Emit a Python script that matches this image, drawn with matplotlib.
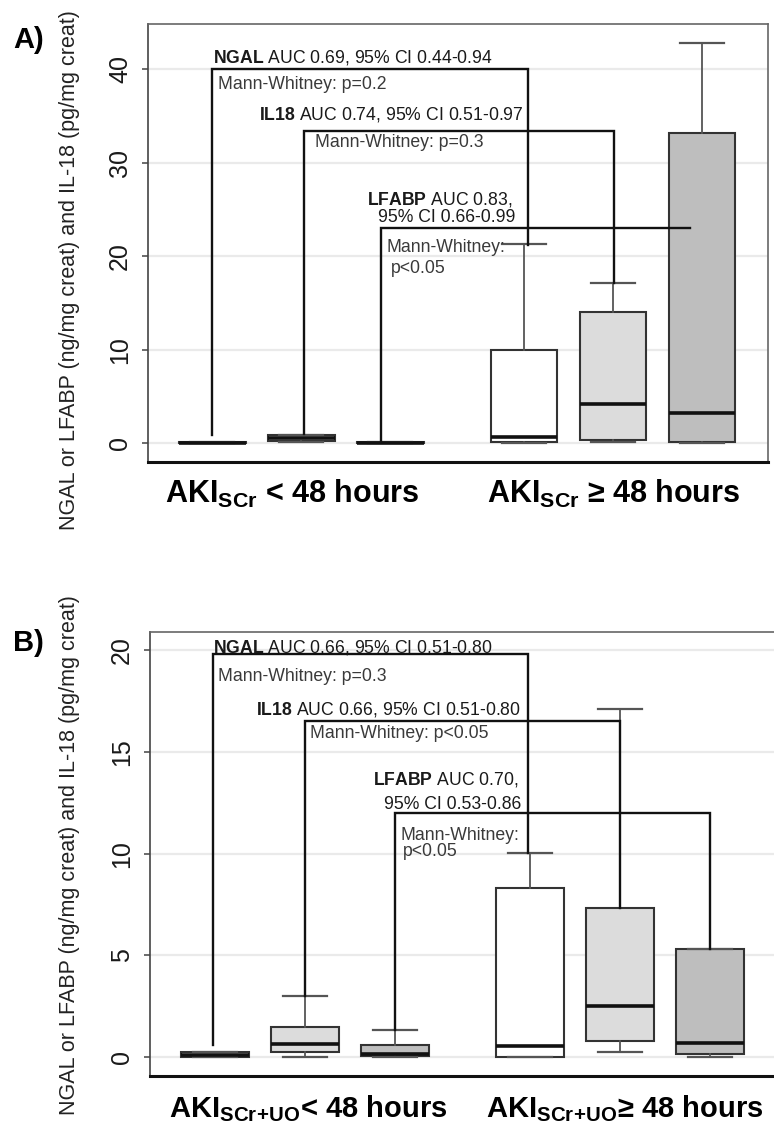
import matplotlib
matplotlib.use("Agg")
import matplotlib.pyplot as plt

plt.rcParams['font.family'] = ['Liberation Sans', 'DejaVu Sans']
plt.rcParams['mathtext.fontset'] = 'custom'
plt.rcParams['mathtext.rm'] = 'Liberation Sans'
plt.rcParams['mathtext.bf'] = 'Liberation Sans:bold'

# box order: NGAL, IL18, LFABP (<48h) then NGAL, IL18, LFABP (>=48h)
positions = [1, 2, 3, 4.5, 5.5, 6.5]
markers = ['NGAL', 'IL18', 'LFABP']

# panel A: AKI by SCr
a_whislo = [0.0, 0.1, 0.0, 0.0, 0.1, 0.0]
a_q1 = [0.0, 0.2, 0.0, 0.1, 0.4, 0.1]
a_med = [0.05, 0.55, 0.05, 0.65, 4.2, 3.2]
a_q3 = [0.15, 0.85, 0.15, 10.0, 14.0, 33.2]
a_whishi = [0.15, 0.85, 0.15, 21.3, 17.1, 42.8]
a_auc = ['AUC 0.69, 95% CI 0.44-0.94', 'AUC 0.74, 95% CI 0.51-0.97', 'AUC 0.83,', '95% CI 0.66-0.99']
a_mw = ['Mann-Whitney: p=0.2', 'Mann-Whitney: p=0.3', 'Mann-Whitney:', 'p<0.05']
# brackets: height, left x, right x, left foot, right foot
a_br_y = [40.0, 33.4, 23.0]
a_br_x0 = [1.0, 2.03, 2.9]
a_br_x1 = [4.55, 5.51, 6.36]
a_br_foot0 = [0.85, 1.0, 0.15]
a_br_foot1 = [21.2, 17.1, 23.0]
a_xlabels = ['AKI$_{\\mathregular{SCr}}$ < 48 hours', 'AKI$_{\\mathregular{SCr}}$ \u2265 48 hours']

# panel B: AKI by SCr + UO
b_whislo = [0.0, 0.0, 0.0, 0.0, 0.25, 0.0]
b_q1 = [0.0, 0.25, 0.03, 0.0, 0.8, 0.15]
b_med = [0.1, 0.64, 0.15, 0.55, 2.48, 0.7]
b_q3 = [0.25, 1.48, 0.6, 8.3, 7.33, 5.3]
b_whishi = [0.25, 3.0, 1.33, 10.05, 17.1, 5.3]
b_auc = ['AUC 0.66, 95% CI 0.51-0.80', 'AUC 0.66, 95% CI 0.51-0.80', 'AUC 0.70,', '95% CI 0.53-0.86']
b_mw = ['Mann-Whitney: p=0.3', 'Mann-Whitney: p<0.05', 'Mann-Whitney:', 'p<0.05']
b_br_y = [19.8, 16.5, 12.0]
b_br_x0 = [0.98, 2.0, 3.0]
b_br_x1 = [4.48, 5.5, 6.5]
b_br_foot0 = [0.6, 3.0, 1.33]
b_br_foot1 = [10.05, 7.33, 5.3]
b_xlabels = ['AKI$_{\\mathregular{SCr\\!+\\!UO}}$< 48 hours',
             'AKI$_{\\mathregular{SCr\\!+\\!UO}}$\u2265 48 hours']

ylabel = 'NGAL or LFABP (ng/mg creat) and IL-18 (pg/mg creat)'
fills = ['white', '#dcdcdc', '#bebebe']

W, H = 774, 1134


def draw_panel(ax, whislo, q1, med, q3, whishi, br_y, br_x0, br_x1, f0, f1,
               auc, mw, text_pos, ylim, yticks, xlim):
    for v in yticks:
        ax.axhline(v, color='#eaeaea', lw=1.6, zorder=0)

    stats = []
    for i in range(len(positions)):
        stats.append({'whislo': whislo[i], 'q1': q1[i], 'med': med[i],
                      'q3': q3[i], 'whishi': whishi[i], 'fliers': []})
    bp = ax.bxp(stats, positions=positions, widths=0.75, patch_artist=True,
                showfliers=False, capwidths=0.49,
                boxprops=dict(edgecolor='#333333', lw=1.5),
                medianprops=dict(color='#111111', lw=2.6),
                whiskerprops=dict(color='#555555', lw=1.3),
                capprops=dict(color='#555555', lw=1.6), manage_ticks=False)
    for i, patch in enumerate(bp['boxes']):
        patch.set_facecolor(fills[i % 3])
        patch.set_zorder(2)

    # comparison brackets
    for i in range(3):
        ax.plot([br_x0[i], br_x0[i], br_x1[i], br_x1[i]],
                [f0[i], br_y[i], br_y[i], f1[i]],
                color='#111111', lw=1.7, zorder=4, solid_joinstyle='miter')

    # annotation texts
    heads = ['$\\mathbf{%s}$ %s' % (markers[0], auc[0]),
             '$\\mathbf{%s}$ %s' % (markers[1], auc[1]),
             '$\\mathbf{%s}$ %s' % (markers[2], auc[2]),
             auc[3]]
    strings = [heads[0], mw[0], heads[1], mw[1], heads[2], heads[3], mw[2], mw[3]]
    colors = ['#1a1a1a', '#3a3a3a', '#1a1a1a', '#3a3a3a',
              '#1a1a1a', '#1a1a1a', '#3a3a3a', '#3a3a3a']
    for s, (x, y), c in zip(strings, text_pos, colors):
        ax.text(x, y, s, fontsize=12.7, color=c, ha='left', va='center', zorder=5)

    ax.set_xlim(*xlim)
    ax.set_ylim(*ylim)
    ax.set_xticks([])
    ax.set_yticks(yticks)
    ax.set_yticklabels([str(v) for v in yticks], rotation=90, va='center')
    ax.tick_params(axis='y', length=4.5, width=1.1, pad=7, labelsize=18,
                   color='#444444', labelcolor='#1a1a1a')
    for side in ['top', 'right', 'left']:
        ax.spines[side].set_color('#666666')
        ax.spines[side].set_linewidth(1.2)
    ax.spines['left'].set_color('#444444')
    ax.spines['bottom'].set_color('#111111')
    ax.spines['bottom'].set_linewidth(2.2)


fig = plt.figure(figsize=(W / 100, H / 100), dpi=100)

axA = fig.add_axes([148 / W, 1 - 462 / H, 620 / W, 438 / H])
a_text_pos = [(1.01, 41.2), (1.07, 38.3), (1.53, 35.1), (2.16, 32.1),
              (2.74, 26.0), (2.86, 24.1), (2.96, 20.9), (3.01, 18.7)]
draw_panel(axA, a_whislo, a_q1, a_med, a_q3, a_whishi, a_br_y, a_br_x0, a_br_x1,
           a_br_foot0, a_br_foot1, a_auc, a_mw, a_text_pos,
           (-2.0, 44.8), [0, 10, 20, 30, 40], (0.28, 7.24))

axB = fig.add_axes([150 / W, 1 - 1076 / H, 626 / W, 444 / H])
b_text_pos = [(0.98, 20.15), (1.03, 18.7), (1.46, 17.1), (2.06, 15.9),
              (2.76, 13.65), (2.88, 12.4), (3.06, 10.9), (3.09, 10.1)]
draw_panel(axB, b_whislo, b_q1, b_med, b_q3, b_whishi, b_br_y, b_br_x0, b_br_x1,
           b_br_foot0, b_br_foot1, b_auc, b_mw, b_text_pos,
           (-0.94, 20.9), [0, 5, 10, 15, 20], (0.278, 7.23))

# group labels under each panel
fig.text(292 / W, 1 - 503 / H, a_xlabels[0], fontsize=22, fontweight='bold',
         ha='center', va='baseline')
fig.text(614 / W, 1 - 503 / H, a_xlabels[1], fontsize=22, fontweight='bold',
         ha='center', va='baseline')
fig.text(308 / W, 1 - 1117 / H, b_xlabels[0], fontsize=21, fontweight='bold',
         ha='center', va='baseline')
fig.text(486 / W, 1 - 1117 / H, b_xlabels[1], fontsize=21, fontweight='bold',
         ha='left', va='baseline')

# y labels and panel tags
fig.text(70 / W, 1 - 270 / H, ylabel, rotation=90, fontsize=15.5, color='#222222',
         ha='center', va='center')
fig.text(70 / W, 1 - 855 / H, ylabel, rotation=90, fontsize=15.5, color='#222222',
         ha='center', va='center')
fig.text(13 / W, 1 - 40 / H, 'A)', fontsize=21, fontweight='bold', ha='left', va='center')
fig.text(13 / W, 1 - 643 / H, 'B)', fontsize=21, fontweight='bold', ha='left', va='center')

fig.savefig('out.png', dpi=100)
